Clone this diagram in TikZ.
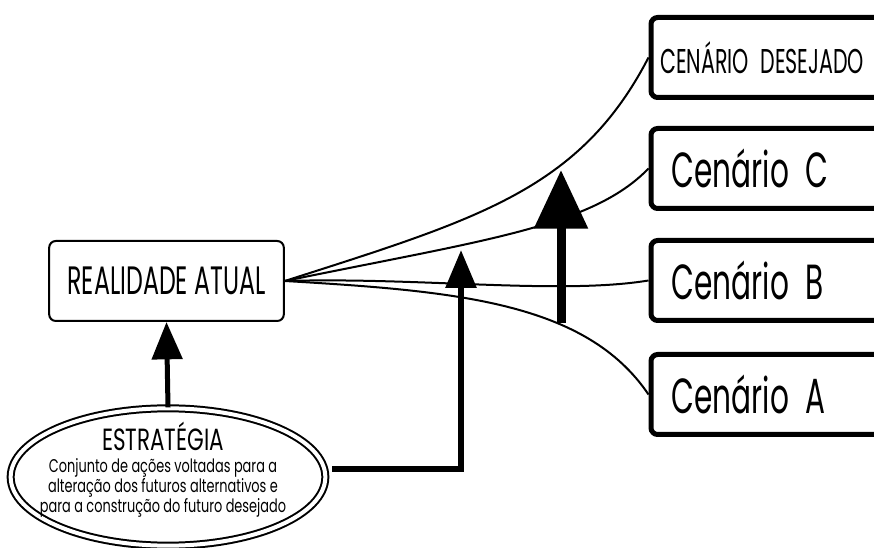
\documentclass[tikz,border=0pt]{standalone}
\usepackage{fontspec}
\setmainfont{Poppins}[FakeStretch=0.6]
\usepackage{tikz}
\usetikzlibrary{shapes, arrows.meta}
\tikzstyle{atual} = [draw, rectangle, rounded corners=5pt, line width=1.5pt, minimum width=176pt, minimum height=60pt, font=\fontsize{29.7}{34}\selectfont]
\tikzstyle{cenario} = [draw, rectangle, rounded corners=5pt, line width=3.75pt, anchor=west, minimum height=60pt, text width=170pt, inner xsep=15.5pt, align=left, font=\fontsize{37}{40}\selectfont]
\tikzstyle{estrategia} = [draw, ellipse, double, line width=1.5pt, double distance=3pt, minimum width=236pt, minimum height=103pt, inner sep=0pt]
\tikzstyle{estrtexto} = [inner sep=0pt, align=center, font=\fontsize{13.8}{14}\selectfont\addfontfeature{FakeStretch=0.7}]
\tikzstyle{curva} = [line width=1.5pt]
\tikzstyle{seta} = [line width=3.75pt, -{Triangle[length=28pt, width=22.5pt]}]

\begin{document}
\begin{tikzpicture}[x=0.75pt, y=-0.75pt]
  \useasboundingbox (0,0) rectangle (874,548);

  \node [atual] (real) at (166.5,281) {REALIDADE ATUAL};
  \node [cenario, inner xsep=7pt, font=\fontsize{25.8}{28}\selectfont] (desejado) at (648.5,57.5) {CENÁRIO DESEJADO};
  \node [cenario] (cenC) at (648.5,168.5) {Cenário C};
  \node [cenario] (cenB) at (648.5,280.5) {Cenário B};
  \node [cenario] (cenA) at (648.5,394.5) {Cenário A};
  \node [estrategia] (estr) at (168,477) {};
  \node [estrtexto] (estrtxt) at (163,470) {{\fontsize{23}{24}\selectfont ESTRATÉGIA}\\[2pt]
    Conjunto de ações voltadas para a\\
    alteração dos futuros alternativos e\\
    para a construção do futuro desejado};

  \coordinate (saida) at (332,469);
  \coordinate (alvo) at (461,250);
  \coordinate (base) at (561,323);
  \coordinate (topo) at (561,170);

  % futuros a partir da realidade atual
  \draw [curva] (real.east) .. controls (478,219) and (580,190) .. (desejado.west);
  \draw [curva] (real.east) .. controls (484,240) and (592,227) .. (cenC.west);
  \draw [curva] (real.east) .. controls (420,277) and (560,295) .. (cenB.west);
  \draw [curva] (real.east) .. controls (456,291) and (586,302) .. (cenA.west);

  % setas da estrategia
  \draw [seta] (estr.north) -- (real.south);
  \draw [seta, line width=4.5pt, -{Triangle[length=28.5pt, width=22.5pt]}] (saida) -| (alvo);
  \draw [seta, line width=6.75pt, -{Triangle[length=44pt, width=39pt]}] (base) -- (topo);
\end{tikzpicture}
\end{document}
